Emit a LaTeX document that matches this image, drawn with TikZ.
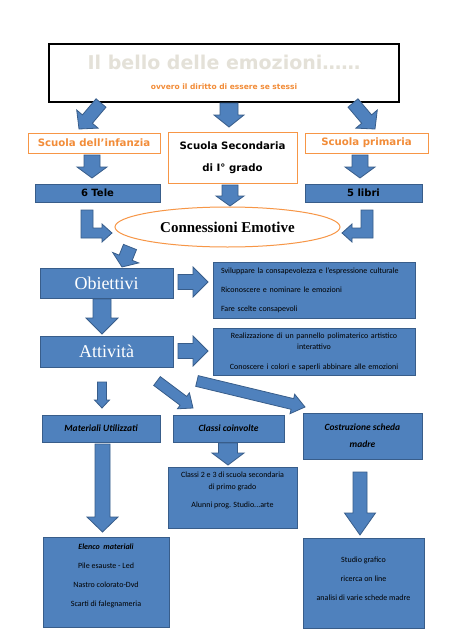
\documentclass[tikz,border=0pt]{standalone}
\usepackage{fontspec}
\setmainfont{Liberation Serif}
\newfontfamily\carlito{Carlito}
\newfontfamily\heavy{DejaVu Sans}
\usetikzlibrary{calc,shapes.geometric}

\definecolor{boxblue}{HTML}{4F81BD}
\definecolor{boxline}{HTML}{385D8A}
\definecolor{orangeline}{HTML}{F79646}
\definecolor{orangetext}{HTML}{F28C38}
\definecolor{titlegrey}{HTML}{E4E1D8}

\tikzset{
  bluebox/.style={draw=boxline, fill=boxblue, line width=0.9pt, inner sep=0pt},
  orangebox/.style={draw=orangeline, fill=white, line width=0.9pt, inner sep=0pt},
  barrow/.style={draw=boxline, fill=boxblue, line width=0.8pt},
  heavytext/.style={font=\heavy\bfseries\fontsize{10.2}{22}\selectfont, align=center},
  headtext/.style={font=\carlito\bfseries\itshape\fontsize{9.5}{17}\selectfont, align=center},
  bigtext/.style={text=white, font=\fontsize{18}{20}\selectfont},
  smalltext/.style={font=\carlito\fontsize{8}{19}\selectfont, align=center},
}

% block arrow: start, tip, shaft half width, head half width, head length
\newcommand{\blockarrow}[5]{%
  \path ($(#2)!#5!(#1)$) coordinate (ba);
  \draw[barrow] ($(#1)!#3!90:(#2)$) -- ($(ba)!#3!-90:(#1)$) -- ($(ba)!#4!-90:(#1)$)
    -- (#2) -- ($(ba)!#4!90:(#1)$) -- ($(ba)!#3!90:(#1)$) -- ($(#1)!#3!-90:(#2)$) -- cycle;
}

\begin{document}
\begin{tikzpicture}[x=1pt,y=-1pt]
\useasboundingbox[fill=white] (0,0) rectangle (453,640);

% title
\node[draw=black, line width=1.2pt, fill=white, minimum width=350pt, minimum height=58pt, inner sep=0pt] (title) at (224,73) {};
\node[text=titlegrey, font=\heavy\bfseries\fontsize{19}{22}\selectfont] (titletext) at (224,62) {Il bello delle emozioni……};
\node[text=orangetext, font=\heavy\bfseries\fontsize{7.5}{9}\selectfont] (subtitle) at (224,87) {ovvero il diritto di essere se stessi};

% schools
\node[orangebox, heavytext, text=orangetext, minimum width=132pt, minimum height=20pt] (infanzia) at (94,143) {Scuola dell’infanzia};
\node[orangebox, heavytext, minimum width=129pt, minimum height=51pt] (secondaria) at (232.5,157.5) {Scuola Secondaria\\di I° grado};
\node[orangebox, heavytext, text=orangetext, minimum width=123pt, minimum height=20pt] (primaria) at (366.5,143) {Scuola primaria};
\node[bluebox, heavytext, font=\heavy\bfseries\fontsize{10}{10}\selectfont, minimum width=125pt, minimum height=18pt] (tele) at (97.5,193) {6 Tele};
\node[bluebox, heavytext, font=\heavy\bfseries\fontsize{10}{10}\selectfont, minimum width=117pt, minimum height=18pt] (libri) at (363.5,193) {5 libri};

\node[ellipse, draw=orangeline, fill=white, line width=1pt, minimum width=225pt, minimum height=40pt, inner sep=0pt, font=\bfseries\fontsize{15}{18}\selectfont] (connessioni) at (227.5,227) {Connessioni Emotive};

% obiettivi / attivita
\node[bluebox, bigtext, minimum width=133pt, minimum height=30pt] (obiettivi) at (106.5,283) {Obiettivi};
\node[bluebox, bigtext, minimum width=133pt, minimum height=31pt] (attivita) at (106.5,351.5) {Attività};
\node[bluebox, smalltext, align=left, text width=186pt, inner xsep=8pt, minimum height=56pt] (obtext) at (314,290) {Sviluppare la consapevolezza e l’espressione culturale\\Riconoscere e nominare le emozioni\\Fare scelte consapevoli};
\node[bluebox, smalltext, font=\carlito\fontsize{8}{11}\selectfont, text width=186pt, inner xsep=8pt, minimum height=47pt] (attext) at (314,351.5) {Realizzazione di un pannello polimaterico artistico\\interattivo\\[9pt]Conoscere i colori e saperli abbinare alle emozioni};

% third row
\node[bluebox, headtext, minimum width=118pt, minimum height=27pt] (materiali) at (101,428.5) {Materiali Utilizzati};
\node[bluebox, headtext, minimum width=111pt, minimum height=27pt] (classi) at (228.5,428.5) {Classi coinvolte};
\node[bluebox, headtext, minimum width=119pt, minimum height=46pt] (costruzione) at (362.5,436) {Costruzione scheda\\madre};

\node[bluebox, minimum width=129pt, minimum height=61pt] (clsbox) at (232.5,497.5) {};
\node[smalltext, font=\carlito\fontsize{8}{12}\selectfont] (clstext) at (232.5,490) {Classi 2 e 3 di scuola secondaria\\di primo grado\\[6pt]Alunni prog. Studio...arte};
\node[bluebox, minimum width=126pt, minimum height=90pt] (elenco) at (106,582) {};
\node[smalltext] (elencotext) at (106,576) {\textbf{\textit{Elenco\ \ materiali}}\\Pile esauste - Led\\Nastro colorato-Dvd\\Scarti di falegnameria};
\node[bluebox, minimum width=121pt, minimum height=90pt] (studio) at (363.5,583) {};
\node[smalltext] (studiotext) at (363.5,579) {Studio grafico\\ricerca on line\\analisi di varie schede madre};

% arrow ends
\coordinate (t1) at (101,103); \coordinate (t1e) at (79,129);
\coordinate (t2) at (229,103); \coordinate (t2e) at (229,127);
\coordinate (t3) at (353,103); \coordinate (t3e) at (375,129);
\coordinate (i1) at (92,155);  \coordinate (i1e) at (92,178);
\coordinate (p1) at (360,155); \coordinate (p1e) at (360,178);
\coordinate (s1) at (230,185); \coordinate (s1e) at (230,206);
\coordinate (c1) at (130,247); \coordinate (c1e) at (122,267);
\coordinate (o1) at (178,282); \coordinate (o1e) at (208,282);
\coordinate (o2) at (102,299); \coordinate (o2e) at (102,334);
\coordinate (a1) at (178,351); \coordinate (a1e) at (208,351);
\coordinate (a2) at (102,382); \coordinate (a2e) at (102,408);
\coordinate (a3) at (157,381); \coordinate (a3e) at (193,408);
\coordinate (a4) at (197,381); \coordinate (a4e) at (305,407);
\coordinate (k1) at (228,443); \coordinate (k1e) at (228,465);
\coordinate (m1) at (102.5,444); \coordinate (m1e) at (102.5,532);
\coordinate (q1) at (360,472); \coordinate (q1e) at (360,535);

\blockarrow{t1}{t1e}{6.5pt}{14pt}{13pt}
\blockarrow{t2}{t2e}{9pt}{15pt}{12pt}
\blockarrow{t3}{t3e}{6.5pt}{14pt}{13pt}
\blockarrow{i1}{i1e}{8pt}{15pt}{11pt}
\blockarrow{p1}{p1e}{8pt}{15pt}{11pt}
\blockarrow{s1}{s1e}{8pt}{14pt}{10pt}
\blockarrow{c1}{c1e}{7pt}{14pt}{10pt}
\blockarrow{o1}{o1e}{7.5pt}{15pt}{15pt}
\blockarrow{o2}{o2e}{9pt}{16pt}{16pt}
\blockarrow{a1}{a1e}{7.5pt}{15pt}{15pt}
\blockarrow{a2}{a2e}{4.5pt}{7.5pt}{8pt}
\blockarrow{a3}{a3e}{5.5pt}{10pt}{12pt}
\blockarrow{a4}{a4e}{5.5pt}{10pt}{13pt}
\blockarrow{k1}{k1e}{9.5pt}{16pt}{12pt}
\blockarrow{m1}{m1e}{7.5pt}{15.5pt}{15pt}
\blockarrow{q1}{q1e}{7pt}{15.5pt}{22pt}

% bent arrows into the ellipse
\coordinate (lbend) at (81,210);
\draw[barrow] (lbend) -- ++(12,0) -- ++(0,18) -- ++(9,0) -- ++(0,-4) -- ++(10,9) -- ++(-10,9) -- ++(0,-4) -- ++(-21,0) -- cycle;
\coordinate (rbend) at (373,210);
\draw[barrow] (rbend) -- ++(-12,0) -- ++(0,18) -- ++(-9,0) -- ++(0,-4) -- ++(-10,9) -- ++(10,9) -- ++(0,-4) -- ++(21,0) -- cycle;
\end{tikzpicture}
\end{document}
